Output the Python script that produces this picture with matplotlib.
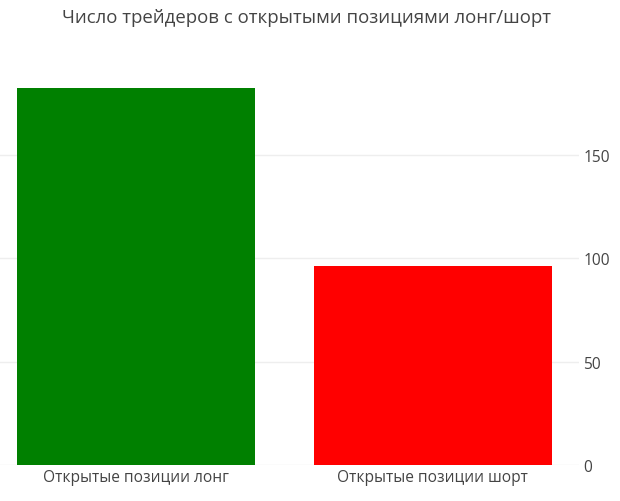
import matplotlib.pyplot as plt

plt.rcParams['font.family'] = ['Open Sans', 'DejaVu Sans']

categories = ['Открытые позиции лонг', 'Открытые позиции шорт']
traders = [182, 96]
colors = ['green', 'red']
title = 'Число трейдеров с открытыми позициями лонг/шорт'

fig = plt.figure(figsize=(6.2, 5.02), dpi=100)
ax = fig.add_axes([0.0, 1 - 466.2 / 502, 579 / 620, 395.6 / 502])

x = range(len(categories))
ax.bar(x, traders, width=0.8, color=colors, zorder=2)

ax.set_xlim(-0.457, 1.492)
ax.set_ylim(0, 191.1)
ax.set_xticks(list(x))
ax.set_xticklabels(categories)
ax.set_yticks([0, 50, 100, 150])

ax.yaxis.tick_right()
ax.tick_params(axis='both', length=0, labelsize=11.2, labelcolor='#444444')
ax.tick_params(axis='y', pad=3)
ax.tick_params(axis='x', pad=3)
ax.grid(axis='y', color='#eeeeee', linewidth=1, zorder=0)
for s in ax.spines.values():
    s.set_visible(False)

fig.text(307 / 620, 1 - 18 / 502, title, ha='center', va='center',
         fontsize=13.4, color='#444444')

fig.savefig('out.png', dpi=100)
